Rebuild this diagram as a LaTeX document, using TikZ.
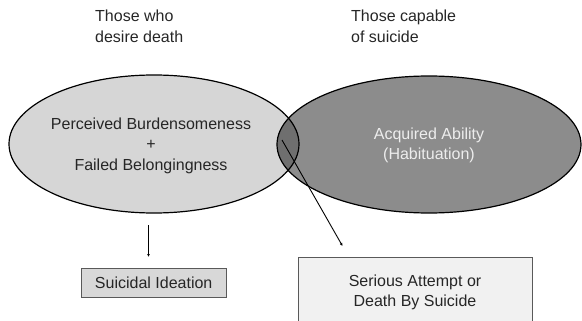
\documentclass[tikz,border=0pt]{standalone}
\usepackage{fontspec}
\setmainfont{Liberation Sans}
\usetikzlibrary{arrows.meta}
\definecolor{desiregray}{HTML}{D6D6D6}
\definecolor{abilitygray}{HTML}{8C8C8C}
\definecolor{overlapgray}{HTML}{6F6F6F}
\definecolor{ideationgray}{HTML}{D8D8D8}
\definecolor{attemptgray}{HTML}{F1F1F1}
\begin{document}
\begin{tikzpicture}[x=1pt,y=-1pt,
  every node/.style={font=\fontsize{16}{20.5}\selectfont,text=black!85},
  outcome/.style={draw=black!65,line width=0.9pt,align=center,inner sep=0pt},
  link/.style={line width=0.9pt,-{Latex[length=3pt,width=3pt]}}]
  \useasboundingbox (0,0) rectangle (582,321);
  % the two groups
  \fill[desiregray] (154,144) ellipse [x radius=145,y radius=69];
  \fill[abilitygray] (429,144.5) ellipse [x radius=152,y radius=68.5];
  \begin{scope}
    \clip (154,144) ellipse [x radius=145,y radius=69];
    \fill[overlapgray] (429,144.5) ellipse [x radius=152,y radius=68.5];
  \end{scope}
  \draw[line width=1.2pt] (154,144) ellipse [x radius=145,y radius=69];
  \draw[line width=1.2pt] (429,144.5) ellipse [x radius=152,y radius=68.5];
  % headings
  \node[anchor=west,align=left,inner sep=0pt] (desire) at (95,26.5) {Those who\\desire death};
  \node[anchor=west,align=left,inner sep=0pt] (capable) at (351,26.5) {Those capable\\of suicide};
  % texts inside
  \node[align=center] (burden) at (151,145.5) {Perceived Burdensomeness\\+\\Failed Belongingness};
  \node[align=center,text=white!93!black] (ability) at (429,145.5) {Acquired Ability\\(Habituation)};
  % outcomes
  \node[outcome,fill=ideationgray,minimum width=145,minimum height=29] (ideation) at (153.7,282.5) {Suicidal Ideation};
  \node[outcome,fill=attemptgray,minimum width=234,minimum height=71] (attempt) at (415,292.5) {Serious Attempt or\\Death By Suicide};
  % arrows
  \coordinate (ideaTop) at (148.5,225);
  \coordinate (ideaTip) at (148.5,257);
  \coordinate (lensStart) at (282,140);
  \coordinate (attemptTip) at (342.5,246);
  \draw[link] (ideaTop) -- (ideaTip);
  \draw[link] (lensStart) -- (attemptTip);
\end{tikzpicture}
\end{document}
